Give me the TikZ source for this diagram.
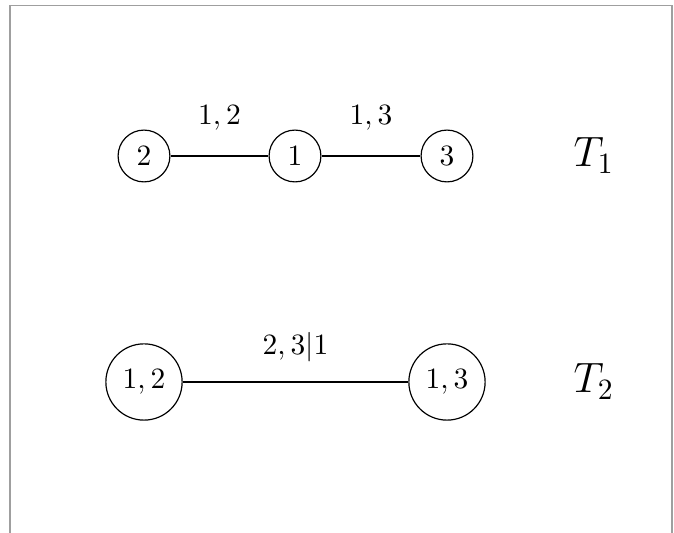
\documentclass[tikz,border=0pt]{standalone}
\begin{document}
\begin{tikzpicture}[x=0.339pt,y=-0.339pt,
  vert/.style={draw,circle,line width=0.4pt},
  lbl/.style={inner sep=0pt},
  edge/.style={line width=0.4pt},
  tname/.style={inner sep=0pt,anchor=base west,font=\Large},
  frameline/.style={draw=gray!75,line width=0.45pt}]
\useasboundingbox (0,0) rectangle (674,533);
\coordinate (fa) at (10,533);
\coordinate (fb) at (10,5.5);
\coordinate (fc) at (672,5.5);
\coordinate (fd) at (672,533);
\draw[frameline] (fa) -- (fb) -- (fc) -- (fd);
\node[vert] (n2) at (144,156) {$2$};
\node[vert] (n1) at (295,156) {$1$};
\node[vert] (n3) at (447,156) {$3$};
\draw[edge] (n2) -- node[lbl,above=8.6pt] {$1,2$} (n1);
\draw[edge] (n1) -- node[lbl,above=8.6pt] {$1,3$} (n3);
\node[tname] (t1) at (573,167) {$T_1$};
\node[vert] (m12) at (144,382) {$1,2$};
\node[vert] (m13) at (447,382) {$1,3$};
\draw[edge] (m12) -- node[lbl,above=6.7pt] {$2,3|1$} (m13);
\node[tname] (t2) at (573,393) {$T_2$};
\end{tikzpicture}
\end{document}
